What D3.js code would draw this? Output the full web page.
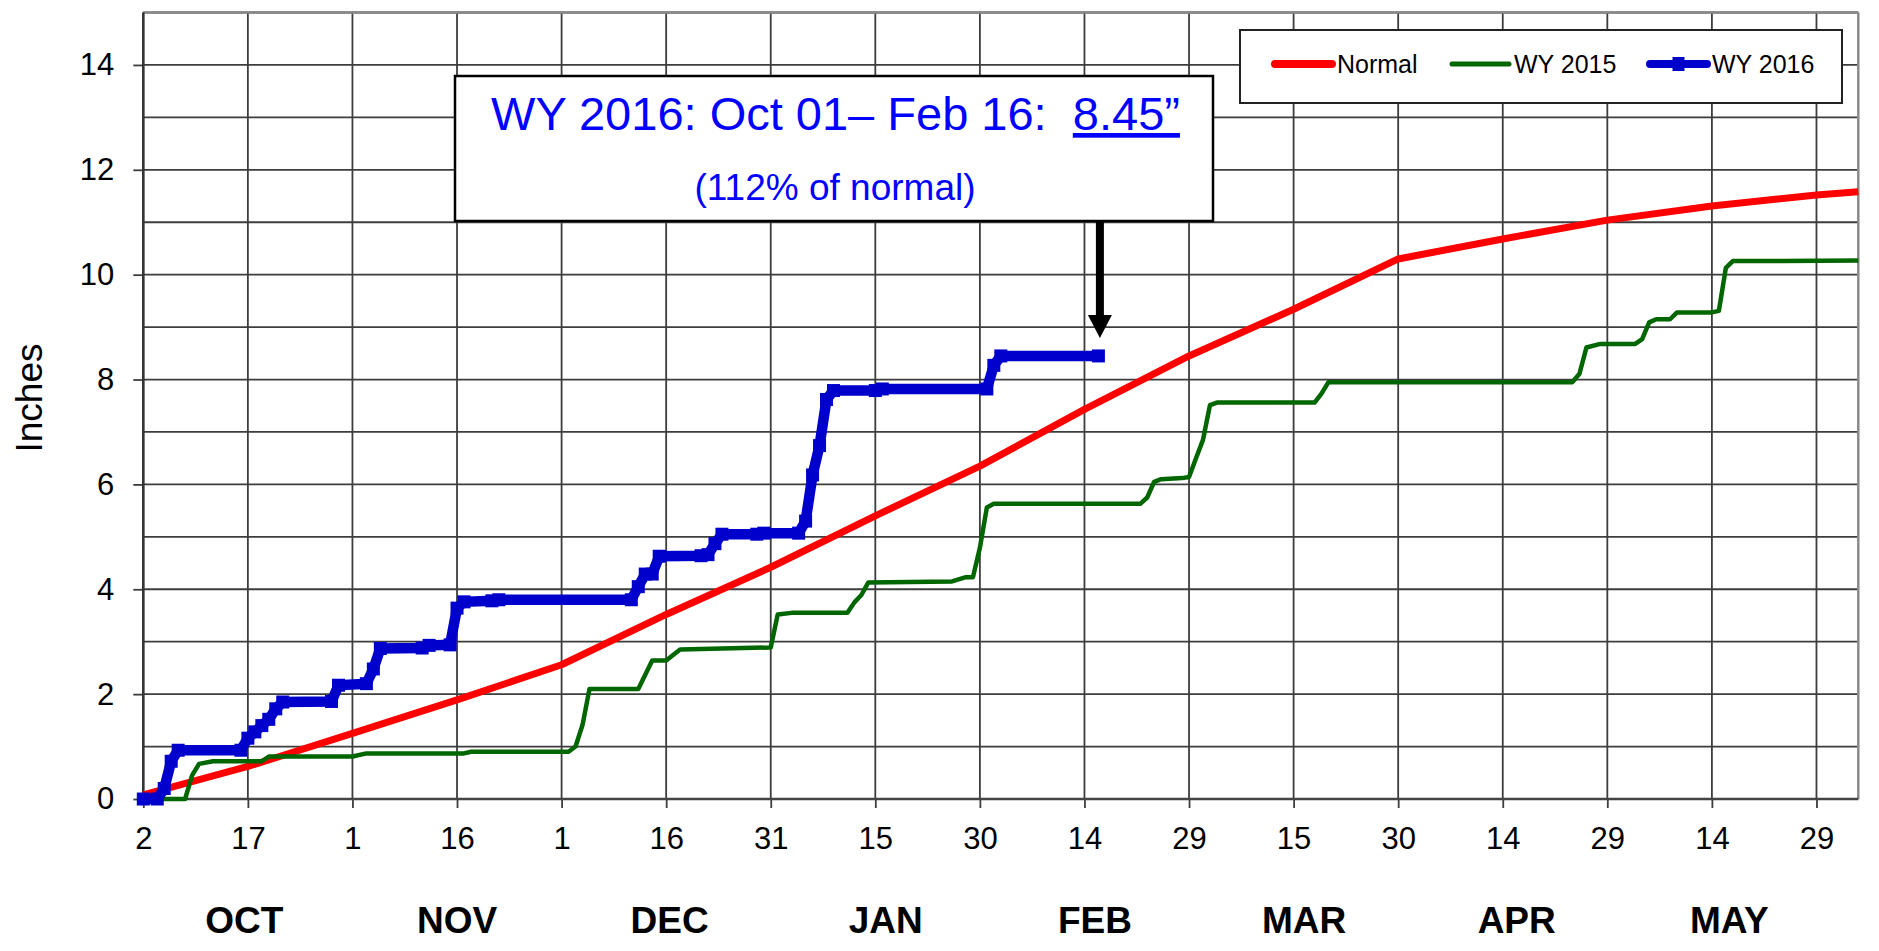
<!DOCTYPE html>
<html>
<head>
<meta charset="utf-8">
<script src="https://cdnjs.cloudflare.com/ajax/libs/d3/7.8.5/d3.min.js"></script>
<style>
  body { margin: 0; background: #fff; }
  text { font-family: "Liberation Sans", Arial, Helvetica, sans-serif; }
</style>
</head>
<body>
<svg id="chart"></svg>
<script>
var width = 1879, height = 951;

// day offsets counted from Oct 2 2015 (left edge of the chart)
var normalDays   = [0, 15, 30, 45, 60, 75, 90, 105, 120, 135, 150, 165, 180, 195, 210, 225, 240, 246];
var normalInches = [0.08, 0.62, 1.25, 1.89, 2.56, 3.52, 4.42, 5.40, 6.35, 7.43, 8.45, 9.34, 10.30, 10.68, 11.04, 11.31, 11.52, 11.58];

var wy2015Days   = [0, 6, 7, 8, 10, 17, 18, 30, 32, 46, 47, 61, 62, 63, 64, 71, 73, 75, 77, 86, 90, 91, 93, 101, 102, 103, 104, 116, 118, 119, 120, 121, 122, 143, 144, 145, 146, 149, 150, 151, 152, 153, 154, 168, 169, 170, 205, 206, 207, 209, 214, 215, 216, 217, 219, 220, 225, 226, 227, 228, 235, 246];
var wy2015Inches = [0, 0, 0.45, 0.67, 0.72, 0.72, 0.81, 0.81, 0.87, 0.87, 0.90, 0.90, 1.00, 1.41, 2.10, 2.10, 2.64, 2.64, 2.85, 2.88, 2.89, 3.52, 3.55, 3.55, 3.75, 3.89, 4.13, 4.15, 4.23, 4.23, 4.79, 5.56, 5.63, 5.63, 5.75, 6.05, 6.10, 6.12, 6.14, 6.50, 6.85, 7.51, 7.56, 7.56, 7.73, 7.95, 7.95, 8.11, 8.61, 8.68, 8.68, 8.77, 9.09, 9.15, 9.15, 9.28, 9.28, 9.31, 10.13, 10.26, 10.26, 10.27];

var wy2016Days   = [0, 2, 3, 4, 5, 14, 15, 16, 17, 18, 19, 20, 27, 28, 32, 33, 34, 40, 41, 44, 45, 46, 50, 51, 70, 71, 72, 73, 74, 80, 81, 82, 83, 88, 89, 94, 95, 96, 97, 98, 99, 105, 106, 121, 122, 123, 137];
var wy2016Inches = [0, 0, 0.20, 0.72, 0.93, 0.93, 1.16, 1.28, 1.40, 1.52, 1.72, 1.85, 1.86, 2.17, 2.20, 2.48, 2.87, 2.88, 2.93, 2.94, 3.64, 3.76, 3.78, 3.80, 3.80, 4.05, 4.29, 4.29, 4.63, 4.64, 4.66, 4.87, 5.05, 5.05, 5.07, 5.07, 5.30, 6.18, 6.74, 7.62, 7.79, 7.79, 7.82, 7.82, 8.27, 8.45, 8.45];

var tickDates = ["2015-10-02", "2015-10-17", "2015-11-01", "2015-11-16", "2015-12-01", "2015-12-16", "2015-12-31",
                 "2016-01-15", "2016-01-30", "2016-02-14", "2016-02-29", "2016-03-15", "2016-03-30", "2016-04-14",
                 "2016-04-29", "2016-05-14", "2016-05-29"];
var monthNames  = ["OCT", "NOV", "DEC", "JAN", "FEB", "MAR", "APR", "MAY"];
var monthStarts = ["2015-10-01", "2015-11-01", "2015-12-01", "2016-01-01", "2016-02-01", "2016-03-01", "2016-04-01", "2016-05-01", "2016-06-01"];
var yTicks = [0, 2, 4, 6, 8, 10, 12, 14];

var seriesNames  = ["Normal", "WY 2015", "WY 2016"];
var seriesColors = ["#ff0000", "#006600", "#0000cc"];

var parseDate = d3.utcParse("%Y-%m-%d");
var startDate = parseDate("2015-10-02");
var endDate = d3.utcDay.offset(startDate, 246);

var svg = d3.select("#chart")
    .attr("width", width)
    .attr("height", height)
    .style("background", "#fff");

var plotLeft = 143.3, plotRight = 1858.3, plotTop = 12.5, plotBottom = 799;

var x = d3.scaleUtc()
  .domain([startDate, endDate])
  .range([plotLeft, plotRight]);

var y = d3.scaleLinear()
  .domain([0, 15])
  .range([plotBottom, plotTop]);

function dayToDate(d) { return d3.utcDay.offset(startDate, d); }

// grid
var grid = svg.append("g").attr("class", "grid");
grid.selectAll("line.h")
  .data(d3.range(0, 16))
  .enter().append("line")
    .attr("x1", plotLeft).attr("x2", plotRight)
    .attr("y1", function(d){ return y(d); })
    .attr("y2", function(d){ return y(d); })
    .attr("stroke", "#3d3d3d")
    .attr("stroke-width", 1.8);

grid.selectAll("line.v")
  .data(tickDates.map(parseDate))
  .enter().append("line")
    .attr("x1", function(d){ return x(d); })
    .attr("x2", function(d){ return x(d); })
    .attr("y1", plotTop).attr("y2", plotBottom)
    .attr("stroke", "#3d3d3d")
    .attr("stroke-width", 1.8);

// axes
var xAxis = d3.axisBottom(x)
  .tickValues(tickDates.map(parseDate))
  .tickFormat(d3.utcFormat("%-d"))
  .tickSize(9)
  .tickSizeOuter(0)
  .tickPadding(19);

var yAxis = d3.axisLeft(y)
  .tickValues(yTicks)
  .tickFormat(d3.format("d"))
  .tickSize(10)
  .tickSizeOuter(0)
  .tickPadding(19);

var gx = svg.append("g")
  .attr("transform", "translate(0," + plotBottom + ")")
  .call(xAxis);
var gy = svg.append("g")
  .attr("transform", "translate(" + plotLeft + ",0)")
  .call(yAxis);

[gx, gy].forEach(function(g){
  g.select(".domain").remove();
  g.selectAll(".tick line").attr("stroke", "#3d3d3d").attr("stroke-width", 1.8);
  g.selectAll(".tick text")
    .attr("fill", "#000")
    .style("font-size", "31px")
    .style("font-family", '"Liberation Sans", Arial, sans-serif');
});

// plot border: top/right lighter, left/bottom dark
svg.append("line").attr("x1", plotLeft).attr("x2", plotRight).attr("y1", plotTop).attr("y2", plotTop)
  .attr("stroke", "#8a8a8a").attr("stroke-width", 2.5);
svg.append("line").attr("x1", plotRight).attr("x2", plotRight).attr("y1", plotTop).attr("y2", plotBottom)
  .attr("stroke", "#8a8a8a").attr("stroke-width", 2.5);
svg.append("line").attr("x1", plotLeft).attr("x2", plotLeft).attr("y1", plotTop).attr("y2", plotBottom + 1)
  .attr("stroke", "#333").attr("stroke-width", 2.5);
svg.append("line").attr("x1", plotLeft).attr("x2", plotRight).attr("y1", plotBottom).attr("y2", plotBottom)
  .attr("stroke", "#444").attr("stroke-width", 2.5);

// month labels, centred in the middle of each month
svg.append("g").selectAll("text")
  .data(monthNames)
  .enter().append("text")
    .attr("x", function(d, i){
      var a = parseDate(monthStarts[i]), b = parseDate(monthStarts[i + 1]);
      return (x(a) + x(b)) / 2;
    })
    .attr("y", 933)
    .attr("text-anchor", "middle")
    .style("font-size", "37px")
    .style("font-weight", "bold")
    .text(function(d){ return d; });

// y axis title
svg.append("text")
  .attr("transform", "translate(41.5,398) rotate(-90)")
  .attr("text-anchor", "middle")
  .style("font-size", "37px")
  .text("Inches");

// lines
var line = d3.line()
  .x(function(d){ return x(dayToDate(d[0])); })
  .y(function(d){ return y(d[1]); });

var normalData = d3.zip(normalDays, normalInches);
var wy2015Data = d3.zip(wy2015Days, wy2015Inches);
var wy2016Data = d3.zip(wy2016Days, wy2016Inches);

svg.append("path")
  .datum(normalData)
  .attr("d", line)
  .attr("fill", "none")
  .attr("stroke", seriesColors[0])
  .attr("stroke-width", 7)
  .attr("stroke-linejoin", "round");

svg.append("path")
  .datum(wy2015Data)
  .attr("d", line)
  .attr("fill", "none")
  .attr("stroke", seriesColors[1])
  .attr("stroke-width", 4.5)
  .attr("stroke-linejoin", "round");

svg.append("path")
  .datum(wy2016Data)
  .attr("d", line)
  .attr("fill", "none")
  .attr("stroke", seriesColors[2])
  .attr("stroke-width", 10.5)
  .attr("stroke-linejoin", "miter");

var mk = 13;
svg.append("g").selectAll("rect")
  .data(wy2016Data)
  .enter().append("rect")
    .attr("x", function(d){ return x(dayToDate(d[0])) - mk / 2; })
    .attr("y", function(d){ return y(d[1]) - mk / 2; })
    .attr("width", mk)
    .attr("height", mk)
    .attr("fill", seriesColors[2]);

// legend
var legend = svg.append("g").attr("id", "legend");
legend.append("rect")
  .attr("x", 1240).attr("y", 30)
  .attr("width", 602).attr("height", 73)
  .attr("fill", "#fff")
  .attr("stroke", "#222")
  .attr("stroke-width", 2);

var legendX = [1275, 1452, 1650];
seriesNames.forEach(function(name, i){
  var lx = legendX[i];
  legend.append("line")
    .attr("x1", lx).attr("x2", lx + 57)
    .attr("y1", 64).attr("y2", 64)
    .attr("stroke", seriesColors[i])
    .attr("stroke-width", i == 1 ? 5 : 8)
    .attr("stroke-linecap", "round");
  if (i == 2) {
    legend.append("rect")
      .attr("x", lx + 28.5 - 6).attr("y", 64 - 7)
      .attr("width", 12).attr("height", 14)
      .attr("fill", seriesColors[2]);
  }
  legend.append("text")
    .attr("x", lx + 62)
    .attr("y", 72.5)
    .style("font-size", "25px")
    .text(name);
});

// annotation box
var note = svg.append("g").attr("id", "note");
note.append("rect")
  .attr("x", 455).attr("y", 76)
  .attr("width", 758).attr("height", 145)
  .attr("fill", "#fff")
  .attr("stroke", "#000")
  .attr("stroke-width", 2.5);

var t1 = note.append("text")
  .attr("x", 835.5)
  .attr("y", 130)
  .attr("text-anchor", "middle")
  .attr("fill", "#0000ff")
  .style("font-size", "47px")
  .style("white-space", "pre");
t1.append("tspan").text("WY 2016: Oct 01\u2013 Feb 16:  ");
t1.append("tspan").style("text-decoration", "underline").text("8.45\u201d");

note.append("text")
  .attr("x", 835)
  .attr("y", 200)
  .attr("text-anchor", "middle")
  .attr("fill", "#0000ff")
  .style("font-size", "37px")
  .text("(112% of normal)");

// arrow down to the last WY 2016 value
var lastDay = wy2016Days[wy2016Days.length - 1];
var ax = x(dayToDate(lastDay)) + 1.5;
var tipY = y(wy2016Inches[wy2016Inches.length - 1]) - 18;
note.append("line")
  .attr("x1", ax).attr("x2", ax)
  .attr("y1", 222).attr("y2", tipY - 20)
  .attr("stroke", "#000")
  .attr("stroke-width", 8);
note.append("path")
  .attr("d", "M" + (ax - 12) + "," + (tipY - 23) + "L" + (ax + 12) + "," + (tipY - 23) + "L" + ax + "," + tipY + "Z")
  .attr("fill", "#000");
</script>
</body>
</html>
